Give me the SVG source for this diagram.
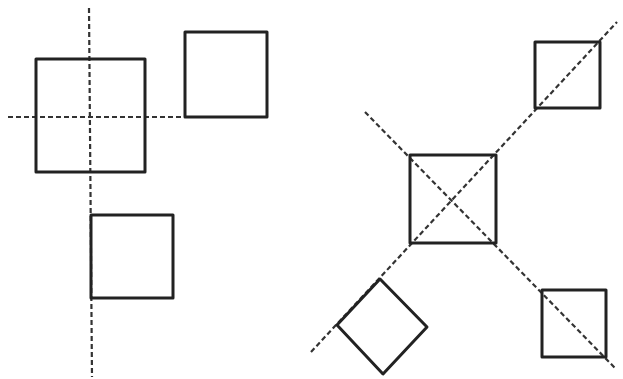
<svg xmlns="http://www.w3.org/2000/svg" width="623" height="379" viewBox="0 0 623 379">
<style>
.sq{fill:none;stroke:#222;stroke-width:3;stroke-linejoin:round}
.ax{fill:none;stroke:#333;stroke-width:2.2;stroke-dasharray:5 3}
</style>
<rect width="623" height="379" fill="#fff"/>
<g id="connectors">
<line class="ax" x1="89" y1="8" x2="92" y2="377"/>
<line class="ax" x1="8" y1="117" x2="185" y2="117"/>
<line class="ax" x1="311" y1="352" x2="617" y2="22"/>
<line class="ax" x1="365" y1="112" x2="615" y2="368"/>
</g>
<g id="left-big"><rect class="sq" x="36" y="59" width="109" height="113"/></g>
<g id="left-top"><rect class="sq" x="185" y="32" width="82" height="85"/></g>
<g id="left-bottom"><rect class="sq" x="91" y="215" width="82" height="83"/></g>
<g id="right-center"><rect class="sq" x="410" y="155" width="86" height="88"/></g>
<g id="right-top"><rect class="sq" x="535" y="42" width="65" height="66"/></g>
<g id="right-bottom"><rect class="sq" x="542" y="290" width="64" height="67"/></g>
<g id="right-diamond"><polygon class="sq" points="380,279 427,327 383,374 337,325"/></g>
</svg>
